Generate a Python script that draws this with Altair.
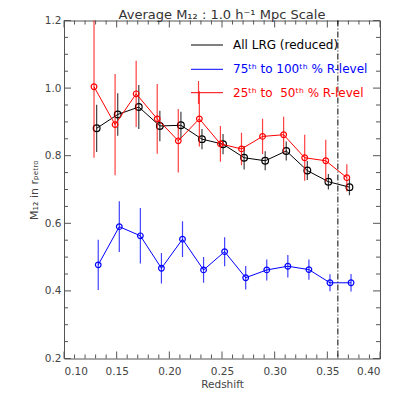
import altair as alt
import pandas as pd

# ---- data ----
black_z = [0.131, 0.151, 0.171, 0.191, 0.211, 0.231, 0.251, 0.271, 0.291, 0.311, 0.331, 0.351, 0.371]
black_m = [0.881, 0.922, 0.944, 0.888, 0.890, 0.849, 0.834, 0.794, 0.785, 0.814, 0.756, 0.723, 0.707]
black_e = [0.070, 0.063, 0.065, 0.045, 0.040, 0.030, 0.030, 0.035, 0.028, 0.028, 0.028, 0.023, 0.024]

red_z = [0.1285, 0.1485, 0.1685, 0.1885, 0.2085, 0.2285, 0.2485, 0.2685, 0.2885, 0.3085, 0.3285, 0.3485, 0.3685]
red_m = [1.004, 0.892, 0.983, 0.909, 0.844, 0.909, 0.835, 0.820, 0.857, 0.862, 0.794, 0.785, 0.735]
red_e = [0.210, 0.150, 0.098, 0.103, 0.094, 0.082, 0.053, 0.048, 0.052, 0.053, 0.068, 0.062, 0.040]

blue_z = [0.1325, 0.1525, 0.1725, 0.1925, 0.2125, 0.2325, 0.2525, 0.2725, 0.2925, 0.3125, 0.3325, 0.3525, 0.3725]
blue_m = [0.477, 0.590, 0.563, 0.467, 0.553, 0.462, 0.516, 0.439, 0.462, 0.473, 0.463, 0.424, 0.424]
blue_e = [0.074, 0.075, 0.082, 0.045, 0.053, 0.038, 0.043, 0.035, 0.031, 0.033, 0.030, 0.025, 0.026]

cut_z = [0.36]

x_major = [0.10, 0.15, 0.20, 0.25, 0.30, 0.35, 0.40]
x_minor = [0.11, 0.12, 0.13, 0.14, 0.16, 0.17, 0.18, 0.19, 0.21, 0.22, 0.23, 0.24,
           0.26, 0.27, 0.28, 0.29, 0.31, 0.32, 0.33, 0.34, 0.36, 0.37, 0.38, 0.39]
y_major = [0.2, 0.4, 0.6, 0.8, 1.0, 1.2]
y_minor = [0.25, 0.30, 0.35, 0.45, 0.50, 0.55, 0.65, 0.70, 0.75, 0.85, 0.90, 0.95,
           1.05, 1.10, 1.15]

legend_labels = ["All LRG (reduced)", "75ᵗʰ to 100ᵗʰ % R-level", "25ᵗʰ to\u00a0 50ᵗʰ % R-level"]
legend_colors = ["#000000", "#0000ff", "#ff0000"]

W, H = 316, 338
FONT = "DejaVu Sans"
AX = "#555555"
MAJ, MIN = 7, 4

def frame(z, m, e):
    df = pd.DataFrame({"z": z, "m": m, "e": e})
    df["lo"] = df["m"] - df["e"]
    df["hi"] = df["m"] + df["e"]
    return df

xs = alt.Scale(domain=[0.10, 0.40], nice=False, zero=False)
ys = alt.Scale(domain=[0.2, 1.2], nice=False, zero=False)

x_label_axis = alt.Axis(orient="bottom", values=x_major, format=".2f", ticks=False, tickSize=0,
                        domain=False, grid=False, labelFont=FONT, labelFontSize=10.5,
                        labelColor="#444444", labelPadding=8, title="Redshift",
                        titleFont=FONT, titleFontSize=10.5, titleFontWeight="normal",
                        titleColor="#444444", titleX=W / 2, titleY=26, titleBaseline="middle")
y_label_axis = alt.Axis(orient="left", values=y_major, format=".1f", ticks=False, tickSize=0,
                        domain=False, grid=False, labelFont=FONT, labelFontSize=10.5,
                        labelColor="#444444", labelPadding=3, title="M₁₂ in rₚₑₜᵣₒ",
                        titleFont=FONT, titleFontSize=11, titleFontWeight="normal",
                        titleColor="#444444", titleX=-30, titleY=H / 2, titleBaseline="middle")

series = [
    (frame(black_z, black_m, black_e), "#000000", 45),
    (frame(red_z, red_m, red_e), "#ff0000", 32),
    (frame(blue_z, blue_m, blue_e), "#0000ff", 32),
]

layers = []

first = True
for df, col, sz in series:
    ax = x_label_axis if first else None
    ay = y_label_axis if first else None
    first = False
    layers.append(alt.Chart(df).mark_rule(color=col, strokeWidth=1.2, opacity=0.75, clip=True).encode(
        x=alt.X("z:Q", scale=xs, axis=ax),
        y=alt.Y("lo:Q", scale=ys, axis=ay),
        y2="hi:Q"))
    layers.append(alt.Chart(df).mark_line(color=col, strokeWidth=1).encode(
        x=alt.X("z:Q", scale=xs, axis=None),
        y=alt.Y("m:Q", scale=ys, axis=None)))
    layers.append(alt.Chart(df).mark_point(shape="circle", filled=False, color=col,
                                           strokeWidth=1.2, size=sz, opacity=1).encode(
        x=alt.X("z:Q", scale=xs, axis=None),
        y=alt.Y("m:Q", scale=ys, axis=None)))

# inward tick marks on all four sides (IDL style)
for vals, ln in ((x_major, MAJ), (x_minor, MIN)):
    tdf = pd.DataFrame({"v": vals})
    layers.append(alt.Chart(tdf).mark_rule(color=AX, strokeWidth=1).encode(
        x=alt.X("v:Q", scale=xs, axis=None), y=alt.value(H), y2=alt.value(H - ln)))
    layers.append(alt.Chart(tdf).mark_rule(color=AX, strokeWidth=1).encode(
        x=alt.X("v:Q", scale=xs, axis=None), y=alt.value(0), y2=alt.value(ln)))
for vals, ln in ((y_major, MAJ), (y_minor, MIN)):
    tdf = pd.DataFrame({"v": vals})
    layers.append(alt.Chart(tdf).mark_rule(color=AX, strokeWidth=1).encode(
        y=alt.Y("v:Q", scale=ys, axis=None), x=alt.value(0), x2=alt.value(ln)))
    layers.append(alt.Chart(tdf).mark_rule(color=AX, strokeWidth=1).encode(
        y=alt.Y("v:Q", scale=ys, axis=None), x=alt.value(W), x2=alt.value(W - ln)))

# dash-dot cut line
layers.append(alt.Chart(pd.DataFrame({"z": cut_z})).mark_rule(
    color="#000000", strokeWidth=1, strokeDash=[6, 2, 1, 2]).encode(
    x=alt.X("z:Q", scale=xs, axis=None)))

# legend (inside the plot)
leg_y = [24.5, 48.8, 72.2]
for lab, col, yy in zip(legend_labels, legend_colors, leg_y):
    layers.append(alt.Chart(pd.DataFrame({"t": [lab]})).mark_rule(color=col, strokeWidth=1).encode(
        x=alt.value(127), x2=alt.value(159), y=alt.value(yy)))
    layers.append(alt.Chart(pd.DataFrame({"t": [lab]})).mark_text(
        align="left", baseline="middle", font=FONT, fontSize=12, color=col).encode(
        x=alt.value(169), y=alt.value(yy), text="t:N"))
layers.append(alt.Chart(pd.DataFrame({"t": [legend_labels[2]]})).mark_rule(
    color="#ff0000", strokeWidth=1.2, opacity=0.75).encode(
    x=alt.value(134.5), y=alt.value(60.5), y2=alt.value(83.5)))

chart = alt.layer(*layers).resolve_axis(x="independent", y="independent").properties(
    width=W, height=H,
    autosize=alt.AutoSizeParams(type="none"),
    padding={"left": 56, "top": 12.5, "right": 12, "bottom": 33.5},
    title=alt.TitleParams("Average M₁₂ : 1.0 h⁻¹ Mpc Scale", font=FONT, fontSize=13,
                          fontWeight="normal", color="#333333", anchor="middle", offset=0, dy=6),
).configure_view(stroke=AX, strokeWidth=1)

chart.save("out.html", embed_options={"renderer": "svg", "actions": False})
